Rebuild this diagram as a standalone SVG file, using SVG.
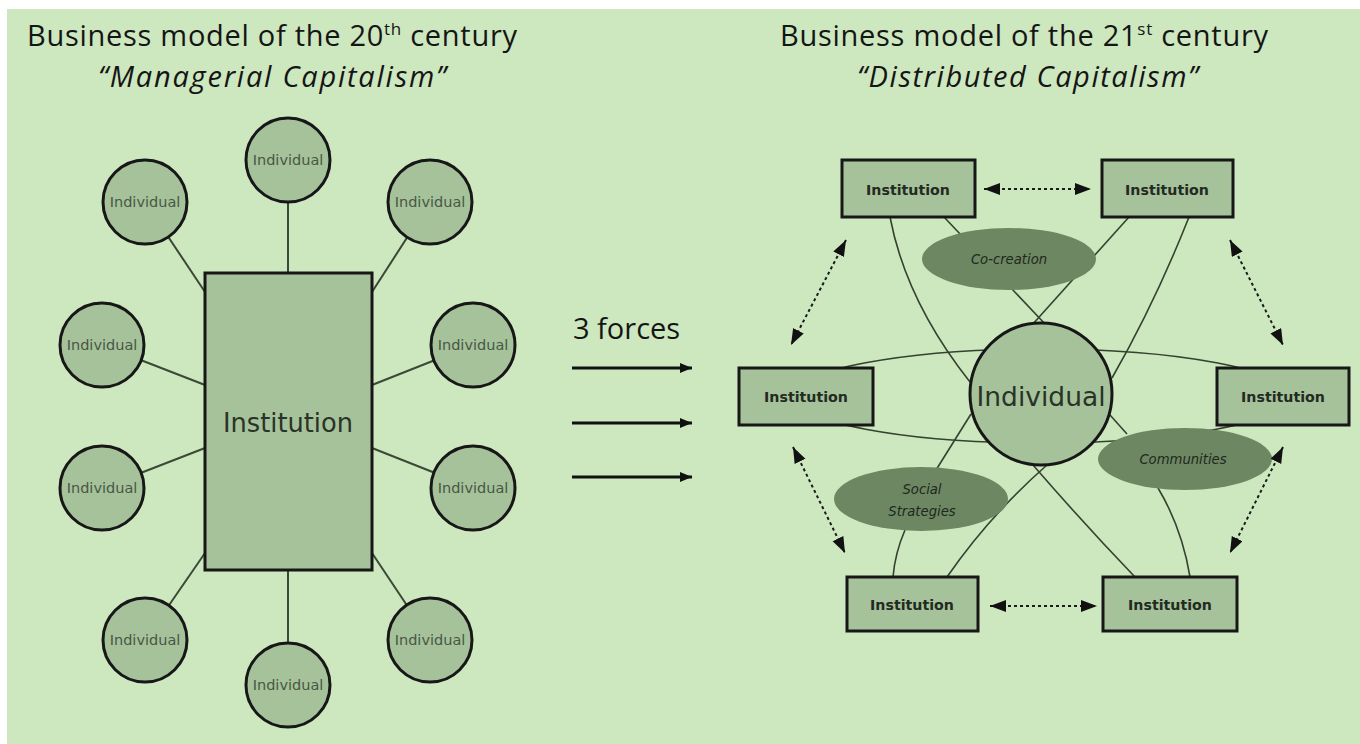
<svg xmlns="http://www.w3.org/2000/svg" width="1360" height="744" viewBox="0 0 1360 744">
  <defs>
    <style>
      .panel{fill:#cde7bf}
      .node{fill:#a6c29b;stroke:#171717;stroke-width:3}
      .blob{fill:#6d8763}
      .lnk{fill:none;stroke:#3b4836;stroke-width:2}
      .thin{fill:none;stroke:#35422f;stroke-width:1.6}
      .dots{fill:none;stroke:#1a1a1a;stroke-width:2;stroke-dasharray:3 3;marker-start:url(#tip);marker-end:url(#tip)}
      .force{stroke:#111;stroke-width:3;marker-end:url(#forceTip)}
      .title{font-family:"Open Sans","Liberation Sans",Arial,sans-serif;font-size:29px;fill:#151515}
      .sub{font-style:italic}
      .ind{font-family:"DejaVu Sans",Verdana,sans-serif;font-size:14.5px;fill:#485744;text-anchor:middle}
      .big{font-family:"DejaVu Sans",Verdana,sans-serif;fill:#2a3327;text-anchor:middle}
      .inst{font-family:"DejaVu Sans",Verdana,sans-serif;font-size:14.2px;font-weight:bold;fill:#232a21;text-anchor:middle}
      .tag{font-family:"DejaVu Sans",Verdana,sans-serif;font-size:13.2px;font-style:italic;fill:#1f281c;text-anchor:middle}
    </style>
    <marker id="tip" markerUnits="userSpaceOnUse" markerWidth="18" markerHeight="14" refX="16" refY="6" orient="auto-start-reverse">
      <path d="M0,0 L16,6 L0,12 z" fill="#111"/>
    </marker>
    <marker id="forceTip" markerUnits="userSpaceOnUse" markerWidth="14" markerHeight="12" refX="12" refY="5" orient="auto">
      <path d="M0,0 L12,5 L0,10 z" fill="#111"/>
    </marker>
  </defs>

  <!-- page -->
  <rect x="0" y="0" width="1360" height="744" fill="#ffffff"/>
  <rect class="panel" x="7" y="9" width="1353" height="735"/>

  <!-- headings -->
  <g id="titles">
    <text class="title" x="27" y="46" textLength="490" lengthAdjust="spacing">Business model of the 20<tspan font-size="17" dy="-11">th</tspan><tspan dy="11"> century</tspan></text>
    <text class="title sub" x="98" y="87" font-size="30" textLength="348" lengthAdjust="spacing">“Managerial Capitalism”</text>
    <text class="title" x="780" y="46" textLength="488" lengthAdjust="spacing">Business model of the 21<tspan font-size="17" dy="-11">st</tspan><tspan dy="11"> century</tspan></text>
    <text class="title sub" x="857" y="87" font-size="30" textLength="341" lengthAdjust="spacing">“Distributed Capitalism”</text>
    <text class="title" x="573" y="339">3 forces</text>
  </g>

  <!-- spokes of the managerial model -->
  <g id="spokes">
    <line class="lnk" x1="288" y1="160" x2="288" y2="273"/>
    <line class="lnk" x1="145" y1="202" x2="205" y2="292"/>
    <line class="lnk" x1="430" y1="202" x2="372" y2="292"/>
    <line class="lnk" x1="102" y1="345" x2="205" y2="385"/>
    <line class="lnk" x1="473" y1="345" x2="372" y2="385"/>
    <line class="lnk" x1="102" y1="488" x2="205" y2="448"/>
    <line class="lnk" x1="473" y1="488" x2="372" y2="448"/>
    <line class="lnk" x1="145" y1="640" x2="205" y2="553"/>
    <line class="lnk" x1="430" y1="640" x2="372" y2="553"/>
    <line class="lnk" x1="288" y1="570" x2="288" y2="685"/>
  </g>

  <g id="inst-central">
    <rect class="node" x="205" y="273" width="167" height="297"/>
    <text class="big" x="288" y="432" font-size="25.7">Institution</text>
  </g>
  <g id="ind-1"><circle class="node" cx="288" cy="160" r="42"/><text class="ind" x="288" y="165">Individual</text></g>
  <g id="ind-2"><circle class="node" cx="145" cy="202" r="42"/><text class="ind" x="145" y="207">Individual</text></g>
  <g id="ind-3"><circle class="node" cx="430" cy="202" r="42"/><text class="ind" x="430" y="207">Individual</text></g>
  <g id="ind-4"><circle class="node" cx="102" cy="345" r="42"/><text class="ind" x="102" y="350">Individual</text></g>
  <g id="ind-5"><circle class="node" cx="473" cy="345" r="42"/><text class="ind" x="473" y="350">Individual</text></g>
  <g id="ind-6"><circle class="node" cx="102" cy="488" r="42"/><text class="ind" x="102" y="493">Individual</text></g>
  <g id="ind-7"><circle class="node" cx="473" cy="488" r="42"/><text class="ind" x="473" y="493">Individual</text></g>
  <g id="ind-8"><circle class="node" cx="145" cy="640" r="42"/><text class="ind" x="145" y="645">Individual</text></g>
  <g id="ind-9"><circle class="node" cx="430" cy="640" r="42"/><text class="ind" x="430" y="645">Individual</text></g>
  <g id="ind-10"><circle class="node" cx="288" cy="685" r="42"/><text class="ind" x="288" y="690">Individual</text></g>

  <!-- the three forces -->
  <g id="forces">
    <line class="force" x1="572" y1="368" x2="692" y2="368"/>
    <line class="force" x1="572" y1="423" x2="692" y2="423"/>
    <line class="force" x1="572" y1="477" x2="692" y2="477"/>
  </g>

  <!-- links of the distributed model -->
  <g id="links">
    <ellipse class="thin" cx="1041" cy="396" rx="248" ry="47"/>
    <path class="thin" d="M890,217 Q906,301 970,382"/>
    <path class="thin" d="M1189,217 Q1155,303 1112,378"/>
    <line class="thin" x1="944" y1="217" x2="1046" y2="325"/>
    <line class="thin" x1="1129" y1="217" x2="1032" y2="325"/>
    <line class="thin" x1="971" y1="414" x2="936" y2="470"/>
    <path class="thin" d="M905,530 Q895,553 893,577"/>
    <path class="thin" d="M1047,465 Q990,515 947,577"/>
    <path class="thin" d="M1033,465 Q1085,525 1135,577"/>
    <line class="thin" x1="1110" y1="415" x2="1127" y2="434"/>
    <path class="thin" d="M1158,488 Q1182,528 1190,577"/>
  </g>

  <g id="inst-tl"><rect class="node" x="842" y="160" width="133" height="57"/><text class="inst" x="908" y="195">Institution</text></g>
  <g id="inst-tr"><rect class="node" x="1102" y="160" width="131" height="57"/><text class="inst" x="1167" y="195">Institution</text></g>
  <g id="inst-ml"><rect class="node" x="739" y="368" width="134" height="57"/><text class="inst" x="806" y="402">Institution</text></g>
  <g id="inst-mr"><rect class="node" x="1217" y="368" width="132" height="57"/><text class="inst" x="1283" y="402">Institution</text></g>
  <g id="inst-bl"><rect class="node" x="847" y="577" width="131" height="54"/><text class="inst" x="912" y="610">Institution</text></g>
  <g id="inst-br"><rect class="node" x="1103" y="577" width="134" height="54"/><text class="inst" x="1170" y="610">Institution</text></g>

  <g id="individual"><circle class="node" cx="1041" cy="394" r="71"/><text class="big" x="1041" y="406" font-size="26.5">Individual</text></g>

  <g id="co-creation"><ellipse class="blob" cx="1009" cy="259" rx="87" ry="31"/><text class="tag" x="1009" y="264">Co-creation</text></g>
  <g id="communities"><ellipse class="blob" cx="1185" cy="459" rx="87" ry="31"/><text class="tag" x="1183" y="464">Communities</text></g>
  <g id="social-strategies"><ellipse class="blob" cx="921" cy="499" rx="87" ry="32"/><text class="tag" x="922" y="494">Social</text><text class="tag" x="922" y="516">Strategies</text></g>

  <!-- dotted two-way exchanges between institutions -->
  <g id="exchanges">
    <line class="dots" x1="984" y1="189" x2="1091" y2="189"/>
    <line class="dots" x1="990" y1="606" x2="1097" y2="606"/>
    <line class="dots" x1="846" y1="240" x2="791" y2="345"/>
    <line class="dots" x1="1230" y1="240" x2="1283" y2="345"/>
    <line class="dots" x1="793" y1="447" x2="845" y2="553"/>
    <line class="dots" x1="1283" y1="447" x2="1230" y2="553"/>
  </g>
</svg>
